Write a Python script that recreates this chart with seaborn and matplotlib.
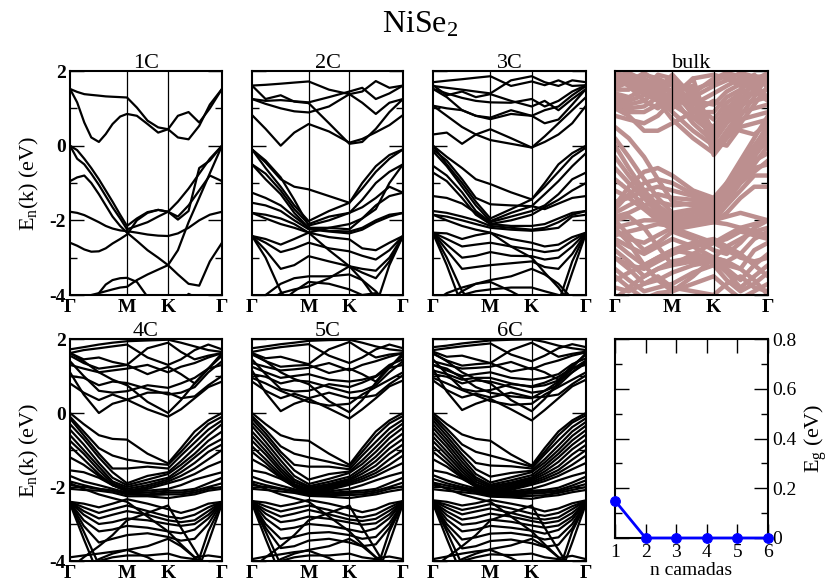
import numpy as np
import pandas as pd
import matplotlib
matplotlib.use("Agg")
import matplotlib.pyplot as plt
import seaborn as sns

# ---------------- data ----------------
K_NODES = [0.0, 0.09, 0.19, 0.28, 0.375, 0.51, 0.645, 0.73, 0.82, 0.91, 1.0]
K_NODES_1C = [0.0, 0.047, 0.094, 0.14, 0.19, 0.235, 0.28, 0.33, 0.375,
              0.44, 0.51, 0.58, 0.645, 0.71, 0.78, 0.85, 0.92, 1.0]
K_TICKS = [0.0, 0.375, 0.645, 1.0]
K_LABELS = ["Γ", "M", "K", "Γ"]

BANDS_1C = [
    [1.52, 1.16, 0.62, 0.22, 0.10, 0.31, 0.58, 0.78, 0.85, 0.80, 0.58, 0.35, 0.44, 0.22, 0.17, 0.53, 1.10, 1.52],
    [1.52, 1.44, 1.38, 1.36, 1.34, 1.32, 1.31, 1.30, 1.29, 1.02, 0.67, 0.49, 0.44, 0.80, 0.90, 0.62, 1.00, 1.52],
    [0.00, -0.12, -0.35, -0.60, -0.90, -1.20, -1.50, -1.85, -2.15, -1.95, -1.78, -1.72, -1.77, -1.98, -1.75, -0.60, -0.40, 0.00],
    [0.00, -0.35, -0.50, -0.75, -1.05, -1.35, -1.65, -1.95, -2.24, -2.15, -2.05, -1.90, -1.77, -1.50, -1.15, -0.75, -0.35, 0.00],
    [-0.95, -0.85, -0.80, -1.00, -1.30, -1.60, -1.90, -2.15, -2.33, -2.55, -2.80, -3.00, -3.20, -3.45, -3.70, -3.75, -3.10, -2.60],
    [-1.77, -1.80, -1.86, -1.95, -2.05, -2.15, -2.22, -2.27, -2.29, -2.33, -2.38, -2.41, -2.42, -2.35, -2.20, -2.00, -1.85, -1.77],
    [-2.60, -2.68, -2.78, -2.84, -2.83, -2.75, -2.62, -2.50, -2.38, -2.00, -1.80, -1.72, -1.77, -1.90, -1.60, -1.20, -0.80, -0.95],
    [-4.40, -4.25, -4.10, -4.00, -3.95, -3.90, -3.85, -3.80, -3.78, -3.60, -3.45, -3.32, -3.20, -2.80, -2.05, -1.40, -0.74, 0.00],
    [-4.60, -4.60, -4.60, -4.30, -3.95, -3.72, -3.60, -3.55, -3.54, -3.65, -4.05, -4.50, -4.60, -4.60, -4.60, -4.60, -4.60, -4.60],
    [-4.60, -4.60, -4.60, -4.60, -4.60, -4.60, -4.60, -4.60, -4.60, -4.60, -4.60, -4.60, -4.60, -4.30, -3.97, -4.10, -4.60, -4.60],
]

BANDS_2C = [
    [1.61, 1.63, 1.66, 1.69, 1.72, 1.50, 1.38, 1.45, 1.73, 1.55, 1.61],
    [1.61, 1.25, 1.35, 1.18, 1.14, 0.60, 0.05, 0.10, 0.45, 0.90, 1.25],
    [1.25, 1.12, 1.00, 0.92, 0.89, 1.05, 1.38, 1.15, 0.85, 1.15, 1.25],
    [0.82, 0.45, 0.00, 0.35, 0.58, 0.38, 0.08, 0.18, 0.36, 0.55, 0.82],
    [1.25, 1.20, 1.22, 1.19, 1.16, 1.30, 1.45, 1.55, 1.25, 1.40, 1.61],
    [-0.10, -0.45, -0.90, -1.10, -1.17, -1.35, -1.53, -1.00, -0.55, -0.25, -0.10],
    [-0.10, -0.60, -1.10, -1.60, -2.02, -1.75, -1.53, -1.15, -0.70, -0.35, -0.10],
    [-0.50, -0.75, -1.20, -1.70, -2.10, -1.90, -1.80, -1.45, -1.00, -0.70, -0.50],
    [-0.10, -0.40, -0.85, -1.45, -2.14, -2.00, -1.80, -1.65, -1.40, -1.10, -1.26],
    [-0.50, -0.90, -1.30, -1.80, -2.20, -2.20, -2.24, -1.95, -1.60, -1.35, -1.26],
    [-1.26, -1.40, -1.60, -1.90, -2.20, -2.28, -2.30, -2.20, -2.00, -1.85, -1.80],
    [-1.53, -1.60, -1.75, -2.00, -2.24, -2.30, -2.35, -2.25, -2.05, -1.90, -1.80],
    [-1.80, -1.85, -1.95, -2.10, -2.33, -2.20, -2.10, -1.95, -1.70, -1.00, -0.50],
    [-2.42, -2.50, -2.65, -2.50, -2.33, -2.45, -2.51, -2.75, -2.80, -2.60, -2.42],
    [-2.42, -2.60, -2.85, -2.75, -2.60, -2.75, -2.83, -2.95, -3.05, -2.80, -2.42],
    [-2.42, -2.80, -3.30, -3.20, -2.96, -3.10, -3.23, -3.30, -3.35, -3.00, -2.42],
    [-2.42, -3.00, -3.90, -4.40, -4.50, -4.50, -4.50, -4.50, -4.30, -3.20, -2.42],
    [-4.40, -4.00, -3.70, -3.55, -3.50, -3.50, -3.45, -3.60, -3.90, -4.30, -4.50],
    [-4.50, -4.20, -3.95, -3.85, -3.77, -3.55, -3.23, -3.60, -4.10, -4.50, -4.60],
    [-1.80, -1.95, -2.10, -2.20, -2.33, -2.80, -3.23, -3.40, -3.55, -3.10, -2.42],
    [-4.60, -4.50, -4.20, -3.90, -3.65, -3.70, -3.85, -4.00, -3.95, -4.20, -4.50],
]

BANDS_3C = [
    [1.70, 1.74, 1.78, 1.82, 1.86, 1.60, 1.72, 1.62, 1.75, 1.60, 1.62],
    [1.60, 1.55, 1.50, 1.45, 1.40, 1.75, 1.86, 1.70, 1.60, 1.75, 1.70],
    [1.62, 1.35, 1.45, 1.30, 1.38, 1.20, 1.05, 1.20, 0.95, 1.25, 1.52],
    [1.52, 1.40, 1.28, 1.20, 1.16, 1.15, 1.25, 1.05, 1.20, 1.45, 1.62],
    [1.07, 1.00, 0.95, 0.80, 0.71, 0.85, 0.80, 0.95, 1.05, 1.35, 1.60],
    [1.52, 1.30, 0.95, 0.80, 0.75, 0.95, 0.80, 0.60, 0.70, 1.10, 1.52],
    [0.30, 0.35, 0.05, 0.30, 0.44, 0.20, -0.05, 0.10, 0.30, 0.60, 1.07],
    [1.07, 0.80, 0.50, 0.30, 0.15, 0.05, -0.05, 0.25, 0.60, 0.95, 1.30],
    [0.00, -0.30, -0.60, -0.90, -1.03, -1.25, -1.44, -1.00, -0.50, -0.20, 0.00],
    [0.00, -0.50, -1.00, -1.50, -1.95, -1.70, -1.44, -1.10, -0.70, -0.30, -0.05],
    [-0.15, -0.55, -1.10, -1.60, -2.02, -1.80, -1.62, -1.30, -0.95, -0.55, -0.20],
    [-0.54, -0.80, -1.25, -1.75, -2.05, -1.90, -1.75, -1.60, -1.30, -0.90, -0.72],
    [-0.72, -0.95, -1.40, -1.85, -2.10, -2.00, -1.85, -1.65, -1.45, -1.20, -1.00],
    [-0.10, -0.40, -0.90, -1.40, -1.57, -1.60, -1.62, -1.70, -1.55, -1.40, -1.35],
    [-1.35, -1.40, -1.55, -1.80, -2.10, -2.15, -2.15, -2.10, -1.95, -1.80, -1.75],
    [-1.75, -1.80, -1.90, -2.00, -2.15, -2.20, -2.25, -2.20, -2.05, -1.85, -1.75],
    [-1.85, -1.90, -2.00, -2.10, -2.20, -2.25, -2.28, -2.25, -2.20, -1.90, -1.85],
    [-2.33, -2.35, -2.50, -2.40, -2.33, -2.50, -2.60, -2.70, -2.65, -2.45, -2.33],
    [-2.33, -2.50, -2.70, -2.65, -2.60, -2.70, -2.78, -2.85, -2.80, -2.55, -2.33],
    [-2.33, -2.65, -3.00, -2.95, -2.85, -2.95, -2.96, -3.05, -3.00, -2.70, -2.33],
    [-2.33, -2.80, -3.30, -3.25, -3.20, -3.15, -3.10, -3.25, -3.30, -2.90, -2.33],
    [-2.33, -3.00, -3.90, -4.30, -4.50, -4.50, -4.50, -4.50, -4.20, -3.10, -2.33],
    [-2.35, -3.20, -4.30, -4.50, -4.50, -4.50, -4.50, -4.50, -4.50, -3.40, -2.35],
    [-1.85, -2.00, -2.15, -2.25, -2.33, -2.70, -3.00, -3.40, -3.80, -4.30, -4.50],
    [-4.50, -4.20, -3.90, -3.70, -3.60, -3.50, -3.30, -3.45, -3.70, -4.10, -4.50],
    [-4.50, -4.30, -4.00, -3.90, -3.85, -3.80, -3.80, -3.90, -4.00, -4.30, -4.50],
    [-4.20, -3.95, -3.80, -3.70, -3.65, -3.90, -4.20, -4.50, -4.50, -4.50, -4.50],
]

BANDS_4C = [
    [1.72, 1.78, 1.85, 1.90, 1.94, 1.96, 1.98, 1.90, 1.80, 1.70, 1.65],
    [1.62, 1.70, 1.75, 1.80, 1.85, 1.50, 1.30, 1.45, 1.70, 1.85, 1.72],
    [1.62, 1.45, 1.50, 1.38, 1.30, 1.75, 1.90, 1.65, 1.45, 1.55, 1.62],
    [1.55, 1.35, 1.20, 1.25, 1.30, 1.05, 1.25, 1.05, 0.80, 1.20, 1.55],
    [1.30, 1.20, 1.10, 1.15, 1.20, 1.30, 1.10, 1.25, 1.35, 1.50, 1.62],
    [1.00, 0.95, 0.75, 0.85, 0.81, 0.65, 0.50, 0.55, 0.70, 1.10, 1.40],
    [1.40, 1.00, 0.60, 0.55, 0.59, 0.75, 0.68, 0.80, 0.95, 1.20, 1.30],
    [0.80, 0.55, 0.35, 0.50, 0.36, 0.55, 0.55, 0.40, 0.45, 0.75, 1.00],
    [1.10, 0.50, 0.00, 0.25, 0.36, 0.10, -0.10, 0.10, 0.40, 0.70, 0.85],
    [1.62, 1.40, 1.10, 0.90, 0.75, 0.30, 0.00, 0.35, 0.80, 1.20, 1.62],
    [0.00, -0.30, -0.60, -0.70, -0.72, -1.10, -1.36, -0.95, -0.50, -0.20, 0.00],
    [-0.10, -0.50, -0.95, -1.15, -1.26, -1.35, -1.40, -1.05, -0.65, -0.30, -0.10],
    [-0.15, -0.60, -1.10, -1.50, -1.50, -1.45, -1.50, -1.15, -0.80, -0.45, -0.20],
    [-0.30, -0.70, -1.20, -1.60, -1.90, -1.70, -1.60, -1.30, -0.95, -0.60, -0.30],
    [-0.45, -0.85, -1.35, -1.75, -1.95, -1.80, -1.65, -1.40, -1.10, -0.75, -0.50],
    [-0.60, -1.00, -1.45, -1.85, -2.00, -1.88, -1.75, -1.50, -1.20, -0.90, -0.70],
    [-0.75, -1.10, -1.55, -1.90, -2.05, -1.95, -1.80, -1.60, -1.35, -1.05, -0.85],
    [-0.90, -1.25, -1.65, -1.95, -2.10, -2.00, -1.85, -1.70, -1.50, -1.25, -1.00],
    [-1.20, -1.40, -1.70, -1.95, -2.10, -2.05, -1.90, -1.80, -1.65, -1.45, -1.30],
    [-1.55, -1.60, -1.75, -1.95, -2.12, -2.10, -2.05, -1.95, -1.80, -1.70, -1.60],
    [-1.70, -1.85, -1.95, -2.05, -2.15, -2.15, -2.10, -2.10, -2.05, -1.90, -1.75],
    [-1.85, -1.95, -2.05, -2.10, -2.18, -2.20, -2.15, -2.15, -2.10, -2.00, -1.90],
    [-1.95, -2.00, -2.05, -2.10, -2.20, -2.22, -2.20, -2.20, -2.15, -2.05, -2.00],
    [-2.05, -2.08, -2.10, -2.15, -2.25, -2.25, -2.30, -2.25, -2.20, -2.10, -2.05],
    [-2.40, -2.45, -2.55, -2.45, -2.33, -2.45, -2.60, -2.70, -2.60, -2.45, -2.40],
    [-2.40, -2.55, -2.70, -2.60, -2.50, -2.65, -2.80, -2.85, -2.75, -2.55, -2.40],
    [-2.40, -2.65, -2.85, -2.75, -2.65, -2.75, -2.90, -2.95, -2.90, -2.65, -2.40],
    [-2.40, -2.75, -3.00, -2.95, -2.85, -2.90, -3.00, -3.05, -3.00, -2.75, -2.40],
    [-2.42, -2.90, -3.20, -3.15, -3.05, -3.10, -3.20, -3.25, -3.15, -2.85, -2.42],
    [-2.42, -3.05, -3.50, -3.40, -3.30, -3.25, -3.35, -3.45, -3.40, -3.00, -2.42],
    [-2.45, -3.20, -4.10, -4.40, -4.50, -4.50, -4.50, -4.50, -4.30, -3.20, -2.45],
    [-2.45, -3.40, -4.40, -4.50, -4.50, -4.50, -4.50, -4.50, -4.50, -3.50, -2.45],
    [-1.90, -2.05, -2.20, -2.30, -2.40, -2.80, -3.20, -3.55, -3.90, -4.30, -4.50],
    [-4.20, -3.90, -3.60, -3.30, -2.90, -2.70, -2.50, -3.10, -3.70, -4.30, -4.50],
    [-4.50, -4.20, -3.95, -3.80, -3.70, -3.60, -3.40, -3.60, -3.90, -4.20, -4.50],
    [-4.50, -4.30, -4.00, -3.90, -3.85, -3.85, -3.80, -3.90, -3.95, -4.20, -4.50],
    [-3.90, -3.85, -3.80, -3.75, -3.70, -3.90, -4.20, -4.50, -3.90, -3.85, -3.90],
]

BANDS_5C = [
    [1.75, 1.80, 1.86, 1.90, 1.95, 1.97, 1.98, 1.90, 1.80, 1.72, 1.68],
    [1.65, 1.72, 1.78, 1.82, 1.86, 1.55, 1.35, 1.50, 1.72, 1.85, 1.75],
    [1.62, 1.48, 1.52, 1.42, 1.32, 1.72, 1.92, 1.70, 1.50, 1.58, 1.62],
    [1.58, 1.40, 1.25, 1.28, 1.30, 1.08, 1.20, 1.05, 0.85, 1.25, 1.55],
    [1.35, 1.25, 1.15, 1.18, 1.22, 1.35, 1.15, 1.30, 1.40, 1.52, 1.62],
    [1.25, 1.10, 0.95, 1.00, 1.05, 0.90, 0.85, 0.90, 1.00, 1.30, 1.45],
    [1.05, 0.98, 0.80, 0.88, 0.85, 0.70, 0.55, 0.60, 0.75, 1.10, 1.40],
    [1.45, 1.05, 0.65, 0.58, 0.60, 0.78, 0.70, 0.82, 0.98, 1.22, 1.30],
    [0.85, 0.60, 0.40, 0.52, 0.40, 0.55, 0.40, 0.42, 0.48, 0.78, 1.02],
    [1.15, 0.55, 0.05, 0.25, 0.38, 0.12, -0.15, 0.10, 0.40, 0.72, 0.88],
    [1.62, 1.40, 1.10, 0.92, 0.78, 0.32, 0.02, 0.35, 0.82, 1.22, 1.62],
    [0.95, 0.80, 0.60, 0.45, 0.30, 0.20, 0.25, 0.50, 0.70, 0.90, 1.10],
    [0.00, -0.30, -0.60, -0.72, -0.75, -1.10, -1.40, -0.95, -0.50, -0.20, 0.00],
    [-0.08, -0.45, -0.90, -1.10, -1.20, -1.32, -1.45, -1.05, -0.62, -0.28, -0.08],
    [-0.15, -0.55, -1.05, -1.40, -1.45, -1.45, -1.52, -1.15, -0.78, -0.42, -0.18],
    [-0.25, -0.65, -1.15, -1.55, -1.80, -1.65, -1.58, -1.28, -0.92, -0.55, -0.28],
    [-0.35, -0.78, -1.28, -1.70, -1.92, -1.78, -1.62, -1.38, -1.05, -0.68, -0.40],
    [-0.50, -0.90, -1.40, -1.80, -1.98, -1.86, -1.72, -1.48, -1.18, -0.82, -0.55],
    [-0.62, -1.02, -1.50, -1.86, -2.02, -1.92, -1.78, -1.56, -1.30, -0.96, -0.70],
    [-0.75, -1.12, -1.58, -1.92, -2.06, -1.96, -1.82, -1.64, -1.42, -1.10, -0.85],
    [-0.90, -1.25, -1.66, -1.96, -2.10, -2.00, -1.86, -1.72, -1.54, -1.25, -1.00],
    [-1.05, -1.35, -1.72, -1.98, -2.12, -2.04, -1.90, -1.78, -1.62, -1.40, -1.15],
    [-1.25, -1.45, -1.75, -2.00, -2.14, -2.08, -1.94, -1.84, -1.70, -1.52, -1.35],
    [-1.55, -1.62, -1.78, -1.98, -2.14, -2.12, -2.05, -1.95, -1.82, -1.70, -1.60],
    [-1.72, -1.85, -1.96, -2.06, -2.15, -2.16, -2.12, -2.10, -2.05, -1.90, -1.75],
    [-1.85, -1.95, -2.04, -2.10, -2.18, -2.20, -2.16, -2.15, -2.10, -2.00, -1.88],
    [-1.95, -2.00, -2.06, -2.12, -2.20, -2.22, -2.22, -2.20, -2.15, -2.05, -1.98],
    [-2.05, -2.08, -2.12, -2.16, -2.24, -2.26, -2.30, -2.25, -2.20, -2.12, -2.06],
    [-2.38, -2.42, -2.52, -2.45, -2.35, -2.45, -2.58, -2.68, -2.60, -2.45, -2.38],
    [-2.38, -2.52, -2.66, -2.58, -2.50, -2.62, -2.78, -2.82, -2.74, -2.55, -2.38],
    [-2.40, -2.62, -2.80, -2.72, -2.62, -2.74, -2.88, -2.92, -2.86, -2.64, -2.40],
    [-2.40, -2.72, -2.95, -2.90, -2.80, -2.86, -2.96, -3.02, -2.98, -2.74, -2.40],
    [-2.40, -2.85, -3.15, -3.10, -3.00, -3.05, -3.15, -3.22, -3.12, -2.84, -2.40],
    [-2.42, -3.00, -3.40, -3.35, -3.25, -3.22, -3.30, -3.40, -3.35, -2.98, -2.42],
    [-2.42, -3.10, -3.65, -3.60, -3.45, -3.40, -3.50, -3.60, -3.55, -3.10, -2.42],
    [-2.45, -3.20, -4.10, -4.40, -4.50, -4.50, -4.50, -4.50, -4.30, -3.20, -2.45],
    [-2.45, -3.40, -4.40, -4.50, -4.50, -4.50, -4.50, -4.50, -4.50, -3.50, -2.45],
    [-1.90, -2.05, -2.20, -2.30, -2.40, -2.80, -3.20, -3.55, -3.90, -4.30, -4.50],
    [-4.20, -3.90, -3.60, -3.30, -2.90, -2.70, -2.50, -3.10, -3.70, -4.30, -4.50],
    [-4.50, -4.20, -3.95, -3.80, -3.70, -3.60, -3.40, -3.60, -3.90, -4.20, -4.50],
    [-4.50, -4.30, -4.00, -3.90, -3.85, -3.85, -3.80, -3.90, -3.95, -4.20, -4.50],
    [-3.95, -3.88, -3.82, -3.76, -3.72, -3.92, -4.20, -4.50, -3.92, -3.88, -3.95],
]

BANDS_6C = [
    [1.78, 1.82, 1.88, 1.92, 1.96, 1.98, 1.99, 1.92, 1.82, 1.75, 1.70],
    [1.70, 1.75, 1.80, 1.84, 1.88, 1.58, 1.40, 1.55, 1.75, 1.86, 1.78],
    [1.66, 1.52, 1.55, 1.45, 1.35, 1.70, 1.90, 1.72, 1.52, 1.60, 1.66],
    [1.60, 1.42, 1.28, 1.32, 1.35, 1.12, 1.22, 1.10, 0.90, 1.28, 1.58],
    [1.40, 1.30, 1.20, 1.22, 1.25, 1.38, 1.18, 1.32, 1.42, 1.55, 1.64],
    [1.30, 1.15, 1.00, 1.05, 1.10, 0.95, 0.90, 0.95, 1.05, 1.32, 1.48],
    [1.15, 1.05, 0.90, 0.95, 0.95, 0.80, 0.70, 0.75, 0.88, 1.18, 1.42],
    [1.05, 0.98, 0.80, 0.88, 0.85, 0.70, 0.55, 0.60, 0.75, 1.10, 1.40],
    [1.45, 1.05, 0.65, 0.58, 0.62, 0.78, 0.72, 0.82, 0.98, 1.22, 1.30],
    [0.88, 0.62, 0.42, 0.52, 0.42, 0.55, 0.42, 0.44, 0.50, 0.78, 1.02],
    [1.18, 0.58, 0.08, 0.25, 0.38, 0.10, -0.20, 0.08, 0.40, 0.72, 0.90],
    [1.62, 1.40, 1.10, 0.92, 0.80, 0.35, 0.05, 0.38, 0.82, 1.22, 1.62],
    [0.95, 0.80, 0.62, 0.48, 0.32, 0.22, 0.25, 0.50, 0.70, 0.90, 1.10],
    [1.30, 1.20, 0.95, 0.70, 0.55, 0.45, 0.40, 0.60, 0.85, 1.10, 1.35],
    [0.00, -0.30, -0.58, -0.70, -0.75, -1.12, -1.42, -0.95, -0.50, -0.20, 0.00],
    [-0.06, -0.42, -0.85, -1.05, -1.15, -1.30, -1.45, -1.05, -0.60, -0.26, -0.06],
    [-0.12, -0.52, -1.00, -1.35, -1.42, -1.44, -1.50, -1.12, -0.74, -0.38, -0.14],
    [-0.20, -0.62, -1.12, -1.52, -1.72, -1.62, -1.56, -1.25, -0.88, -0.50, -0.24],
    [-0.30, -0.72, -1.22, -1.65, -1.88, -1.74, -1.60, -1.34, -1.00, -0.62, -0.34],
    [-0.40, -0.82, -1.32, -1.74, -1.94, -1.82, -1.68, -1.42, -1.10, -0.74, -0.46],
    [-0.52, -0.92, -1.42, -1.80, -1.98, -1.88, -1.74, -1.50, -1.20, -0.86, -0.58],
    [-0.64, -1.04, -1.50, -1.86, -2.02, -1.92, -1.78, -1.58, -1.32, -0.98, -0.72],
    [-0.76, -1.14, -1.58, -1.92, -2.06, -1.96, -1.82, -1.65, -1.44, -1.12, -0.86],
    [-0.90, -1.25, -1.66, -1.96, -2.10, -2.00, -1.86, -1.72, -1.54, -1.26, -1.00],
    [-1.05, -1.35, -1.72, -1.98, -2.12, -2.04, -1.90, -1.78, -1.62, -1.40, -1.15],
    [-1.25, -1.45, -1.75, -2.00, -2.14, -2.08, -1.94, -1.84, -1.70, -1.52, -1.35],
    [-1.55, -1.62, -1.78, -1.98, -2.14, -2.12, -2.05, -1.95, -1.82, -1.70, -1.60],
    [-1.68, -1.82, -1.94, -2.04, -2.14, -2.15, -2.10, -2.08, -2.02, -1.88, -1.72],
    [-1.78, -1.90, -2.00, -2.08, -2.16, -2.18, -2.14, -2.12, -2.08, -1.96, -1.82],
    [-1.88, -1.96, -2.04, -2.10, -2.18, -2.20, -2.18, -2.16, -2.12, -2.02, -1.92],
    [-1.96, -2.02, -2.08, -2.14, -2.22, -2.24, -2.24, -2.22, -2.16, -2.08, -2.00],
    [-2.06, -2.10, -2.14, -2.18, -2.26, -2.28, -2.32, -2.26, -2.22, -2.14, -2.08],
    [-2.36, -2.40, -2.50, -2.44, -2.35, -2.45, -2.56, -2.66, -2.58, -2.44, -2.36],
    [-2.38, -2.48, -2.62, -2.55, -2.46, -2.58, -2.72, -2.78, -2.70, -2.52, -2.38],
    [-2.38, -2.56, -2.74, -2.66, -2.58, -2.70, -2.84, -2.88, -2.82, -2.60, -2.38],
    [-2.40, -2.66, -2.88, -2.82, -2.72, -2.80, -2.92, -2.98, -2.92, -2.70, -2.40],
    [-2.40, -2.76, -3.02, -2.98, -2.88, -2.94, -3.04, -3.10, -3.04, -2.80, -2.40],
    [-2.40, -2.88, -3.20, -3.15, -3.05, -3.10, -3.18, -3.26, -3.16, -2.88, -2.40],
    [-2.42, -3.00, -3.42, -3.36, -3.26, -3.24, -3.32, -3.42, -3.36, -3.00, -2.42],
    [-2.42, -3.10, -3.66, -3.60, -3.46, -3.42, -3.52, -3.62, -3.56, -3.12, -2.42],
    [-2.45, -3.20, -4.10, -4.40, -4.50, -4.50, -4.50, -4.50, -4.30, -3.20, -2.45],
    [-2.45, -3.40, -4.40, -4.50, -4.50, -4.50, -4.50, -4.50, -4.50, -3.50, -2.45],
    [-1.90, -2.05, -2.20, -2.30, -2.40, -2.80, -3.20, -3.55, -3.90, -4.30, -4.50],
    [-4.20, -3.90, -3.60, -3.30, -2.90, -2.70, -2.50, -3.10, -3.70, -4.30, -4.50],
    [-4.50, -4.20, -3.95, -3.80, -3.68, -3.58, -3.40, -3.60, -3.90, -4.20, -4.50],
    [-4.50, -4.30, -4.00, -3.90, -3.82, -3.84, -3.80, -3.90, -3.95, -4.20, -4.50],
    [-3.95, -3.88, -3.80, -3.74, -3.70, -3.92, -4.20, -4.50, -3.92, -3.86, -3.95],
]

BANDS_BULK = [
    [1.90, 1.60, 1.20, 1.00, 1.30, 1.80, 1.90, 1.80, 1.60, 1.70, 1.90],
    [1.80, 1.70, 1.40, 1.20, 1.00, 1.50, 1.70, 1.90, 1.70, 1.50, 1.80],
    [1.70, 1.80, 1.60, 1.40, 1.20, 1.10, 1.40, 1.60, 1.80, 1.60, 1.70],
    [1.60, 1.90, 1.80, 1.60, 1.40, 0.90, 0.90, 1.30, 1.50, 1.80, 1.60],
    [1.50, 1.50, 1.90, 1.80, 1.60, 0.80, 0.50, 1.00, 1.30, 1.40, 1.50],
    [1.40, 1.30, 1.50, 1.90, 1.80, 1.00, 0.20, 0.70, 1.10, 1.20, 1.30],
    [1.20, 1.10, 1.20, 1.50, 1.90, 1.30, -0.10, 0.40, 0.90, 1.00, 1.10],
    [1.00, 0.90, 0.90, 1.10, 1.50, 1.60, -0.25, 0.20, 0.70, 0.80, 0.90],
    [0.80, 0.70, 0.60, 0.80, 1.20, 1.80, 0.10, 0.00, 0.50, 0.60, 0.70],
    [1.90, 1.80, 1.70, 1.30, 0.90, 0.40, 0.00, 0.30, 0.80, 1.30, 1.90],
    [1.90, 1.70, 1.50, 1.20, 0.70, 0.20, -0.20, 0.20, 0.60, 1.10, 1.60],
    [1.00, 0.80, 0.40, 0.40, 0.60, 0.90, 1.20, 1.00, 0.40, 0.30, 0.60],
    [1.95, 1.85, 1.60, 1.35, 1.10, 1.40, 1.80, 1.95, 1.85, 1.75, 1.95],
    [1.85, 1.95, 1.75, 1.50, 1.25, 1.30, 1.60, 1.75, 1.95, 1.85, 1.85],
    [1.55, 1.70, 1.95, 1.70, 1.45, 1.20, 1.10, 1.45, 1.65, 1.90, 1.55],
    [1.30, 1.20, 1.35, 1.70, 1.70, 1.15, 0.70, 1.15, 1.40, 1.60, 1.30],
    [1.10, 1.00, 1.05, 1.30, 1.75, 1.45, 0.35, 0.85, 1.20, 1.45, 1.20],
    [1.90, 1.80, 1.60, 1.40, 1.30, 0.60, 0.10, 0.60, 1.00, 1.50, 1.90],
    [1.80, 1.60, 1.40, 1.20, 1.10, 0.75, 0.30, 0.80, 1.20, 1.70, 1.85],
    [0.50, 0.20, -0.30, -0.90, -1.50, -1.60, -1.60, -1.00, -0.40, 0.20, 0.80],
    [0.20, -0.30, -0.90, -1.40, -1.80, -1.70, -1.65, -1.10, -0.50, 0.00, 0.50],
    [0.00, -0.60, -1.20, -1.60, -1.90, -1.80, -1.70, -1.20, -0.60, -0.20, 0.10],
    [-0.30, -0.80, -1.30, -1.70, -2.00, -1.90, -1.80, -1.30, -0.80, -0.40, -0.20],
    [-0.60, -1.00, -1.40, -1.80, -2.10, -2.00, -1.90, -1.50, -1.00, -0.60, -0.50],
    [-0.90, -1.20, -1.60, -1.90, -2.20, -2.10, -2.00, -1.60, -1.20, -0.80, -0.80],
    [-1.20, -1.40, -1.70, -2.00, -2.25, -2.15, -2.05, -1.80, -1.40, -1.10, -1.10],
    [-1.60, -1.10, -0.70, -0.60, -0.80, -1.20, -1.40, -1.00, -0.60, -0.20, 0.40],
    [-1.70, -1.30, -1.00, -0.90, -1.00, -1.30, -1.45, -1.10, -0.70, -0.10, 0.60],
    [-1.50, -1.40, -1.20, -1.10, -1.20, -1.35, -1.50, -1.20, -0.80, -0.30, 0.20],
    [-1.80, -1.60, -1.40, -1.30, -1.40, -1.45, -1.55, -1.30, -0.90, -0.50, 0.00],
    [-1.90, -1.80, -1.60, -1.50, -1.60, -1.55, -1.60, -1.40, -1.00, -0.70, -0.40],
    [-2.20, -2.10, -2.00, -2.00, -2.10, -2.00, -2.00, -1.90, -1.80, -1.90, -2.00],
    [-2.40, -2.30, -2.20, -2.10, -2.15, -2.10, -2.05, -2.10, -2.20, -2.30, -2.40],
    [-2.00, -2.40, -2.80, -2.60, -2.30, -2.50, -2.80, -2.90, -2.60, -2.20, -2.00],
    [-2.50, -2.70, -2.90, -2.70, -2.50, -2.70, -3.00, -3.10, -2.90, -2.50, -2.30],
    [-2.60, -2.90, -3.20, -3.00, -2.80, -2.90, -3.00, -3.20, -3.30, -2.80, -2.60],
    [-2.80, -3.10, -3.50, -3.30, -3.10, -3.00, -3.05, -3.30, -3.60, -3.20, -2.90],
    [-3.00, -3.30, -3.70, -3.60, -3.40, -3.20, -3.10, -3.40, -3.80, -3.50, -3.20],
    [-3.30, -3.60, -3.90, -3.80, -3.70, -3.40, -3.20, -3.60, -3.90, -3.70, -3.40],
    [-3.50, -3.80, -4.10, -3.95, -3.90, -3.70, -3.50, -3.80, -4.10, -3.90, -3.70],
    [-3.80, -3.90, -3.70, -3.50, -3.80, -3.90, -4.00, -3.70, -3.50, -3.80, -3.90],
    [-2.20, -2.60, -3.20, -3.60, -3.90, -3.50, -3.00, -2.70, -2.50, -2.30, -2.20],
    [-2.00, -1.90, -2.20, -2.70, -3.20, -2.90, -2.60, -2.40, -2.20, -2.10, -2.00],
    [-2.30, -2.50, -2.60, -2.40, -2.20, -2.40, -2.60, -2.50, -2.30, -2.40, -2.50],
    [-3.00, -3.20, -3.30, -3.10, -2.90, -2.70, -2.60, -2.80, -3.00, -3.10, -3.00],
    [-3.60, -3.40, -3.20, -3.00, -2.80, -2.60, -2.50, -2.70, -2.90, -3.20, -3.50],
    [-4.10, -3.80, -3.50, -3.30, -3.20, -3.10, -3.00, -3.10, -3.30, -3.60, -4.00],
]

LAYERS = [1, 2, 3, 4, 5, 6]
GAPS = [0.15, 0.0, 0.0, 0.0, 0.0, 0.0]

PANELS = [
    ("1C", K_NODES_1C, BANDS_1C), ("2C", K_NODES, BANDS_2C),
    ("3C", K_NODES, BANDS_3C), ("bulk", K_NODES, BANDS_BULK),
    ("4C", K_NODES, BANDS_4C), ("5C", K_NODES, BANDS_5C), ("6C", K_NODES, BANDS_6C),
]

# ---------------- style ----------------
sns.set_theme(style="white")
plt.rcParams["font.family"] = ["Liberation Serif", "DejaVu Serif"]
plt.rcParams["mathtext.fontset"] = "custom"
plt.rcParams["mathtext.rm"] = "Liberation Serif"
plt.rcParams["mathtext.it"] = "Liberation Serif:italic"
plt.rcParams["axes.unicode_minus"] = False
for key in ("text.color", "axes.labelcolor", "xtick.color", "ytick.color"):
    plt.rcParams[key] = "black"

W, H = 839, 585
fig = plt.figure(figsize=(W / 100, H / 100), dpi=100)
fig.patch.set_facecolor("white")


def add_ax(x0, x1, y0, y1):
    return fig.add_axes([x0 / W, 1 - y1 / H, (x1 - x0) / W, (y1 - y0) / H])


COLS = [(70, 222), (252, 403), (433, 586), (615, 768)]
ROWS = [(71, 295), (339, 561)]
POS = [(0, 0), (0, 1), (0, 2), (0, 3), (1, 0), (1, 1), (1, 2)]


def to_df(knodes, bands):
    rows = []
    for i, b in enumerate(bands):
        for k, e in zip(knodes, b):
            rows.append((i, k, e))
    return pd.DataFrame(rows, columns=["band", "k", "E"])


for (name, knodes, bands), (r, c) in zip(PANELS, POS):
    x0, x1 = COLS[c]
    y0, y1 = ROWS[r]
    ax = add_ax(x0, x1, y0, y1)
    df = to_df(knodes, bands)
    is_bulk = name == "bulk"
    sns.lineplot(data=df, x="k", y="E", units="band", estimator=None, sort=False,
                 color="#bc8f8f" if is_bulk else "black",
                 lw=3.2 if is_bulk else 1.6, ax=ax, legend=False)
    for ln in ax.lines:
        ln.set_solid_joinstyle("round")
        ln.set_solid_capstyle("round")
    for kv in (0.375, 0.645):
        ax.axvline(kv, color="black", lw=0.9, zorder=5)
    ax.set_xlim(0, 1)
    ax.set_ylim(-4, 2)
    ax.set_xticks(K_TICKS)
    ax.set_xticklabels(K_LABELS, fontweight="bold")
    ax.tick_params(axis="x", length=0, labelsize=14, pad=3)
    ax.set_yticks([-4, -2, 0, 2])
    ax.set_yticks([-3, -1, 1], minor=True)
    ax.tick_params(axis="y", which="major", direction="in", length=10, width=1,
                   left=True, right=True, labelsize=14, pad=3)
    ax.tick_params(axis="y", which="minor", direction="in", length=5, width=1,
                   left=True, right=True)
    ax.set_xlabel("")
    ax.set_ylabel("")
    if c == 0:
        ax.set_yticklabels(["-4", "-2", "0", "2"], fontweight="bold")
        ax.set_ylabel("E$_\\mathrm{n}$(k) (eV)", fontsize=16, labelpad=6)
    else:
        ax.tick_params(axis="y", labelleft=False)
    ax.set_title(name, fontsize=16, pad=2)
    for s in ax.spines.values():
        s.set_linewidth(1.5)
        s.set_color("black")
        s.set_zorder(6)

# ---------------- gap panel ----------------
gx = add_ax(615, 768, 339, 538)
sns.lineplot(x=LAYERS, y=GAPS, ax=gx, color="blue", lw=2, marker="o",
             markersize=7, markeredgecolor="blue", markerfacecolor="blue")
for ln in gx.lines:
    ln.set_clip_on(False)
    ln.set_zorder(7)
gx.set_xlim(1, 6)
gx.set_ylim(0, 0.8)
gx.set_xticks(LAYERS)
gx.set_yticks([0, 0.2, 0.4, 0.6, 0.8])
gx.set_yticklabels(["0", "0.2", "0.4", "0.6", "0.8"])
gx.set_yticks([0.1, 0.3, 0.5, 0.7], minor=True)
gx.tick_params(axis="x", which="major", direction="in", length=10, width=1,
               top=True, bottom=True, labelsize=14, pad=4)
gx.tick_params(axis="y", which="major", direction="in", length=10, width=1,
               left=True, right=True, labelleft=False, labelright=True,
               labelsize=14, pad=3)
gx.tick_params(axis="y", which="minor", direction="in", length=5, width=1,
               left=True, right=True)
gx.yaxis.set_label_position("right")
gx.set_ylabel("E$_\\mathrm{g}$ (eV)", fontsize=16, labelpad=4)
gx.set_xlabel("n camadas", fontsize=14, labelpad=1)
for s in gx.spines.values():
    s.set_linewidth(1.5)
    s.set_color("black")

fig.text(420 / W, 1 - 25 / H, "NiSe$_\\mathrm{2}$", ha="center", va="center", fontsize=23)

fig.savefig("out.png", dpi=100, facecolor="white")
